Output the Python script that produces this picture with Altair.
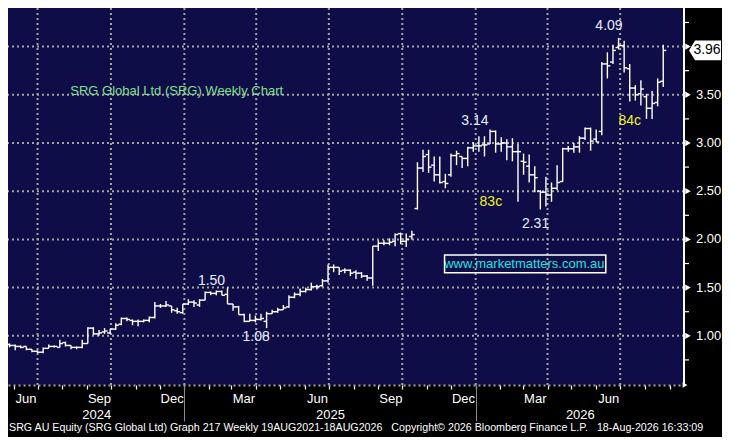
import altair as alt
import pandas as pd

# ---------------- weekly OHLC ----------------
first_week = "2024-05-27"
opens = [0.91, 0.90, 0.89, 0.89, 0.86, 0.84, 0.83, 0.87, 0.89, 0.88,
         0.93, 0.90, 0.88, 0.88, 0.92, 1.08, 1.02, 1.04, 1.03, 1.07,
         1.12, 1.18, 1.16, 1.15, 1.15, 1.16, 1.19, 1.31, 1.31, 1.31,
         1.26, 1.24, 1.33, 1.35, 1.32, 1.37, 1.45, 1.44, 1.46, 1.43,
         1.33, 1.30, 1.22, 1.15, 1.16, 1.17, 1.15, 1.23, 1.25, 1.27,
         1.30, 1.40, 1.43, 1.46, 1.48, 1.51, 1.52, 1.57, 1.71, 1.71,
         1.68, 1.68, 1.66, 1.65, 1.62, 1.60, 1.93, 1.96, 1.96, 1.98,
         2.06, 1.98, 2.03, 2.32, 2.74, 2.88, 2.77, 2.67, 2.60, 2.67,
         2.87, 2.86, 2.84, 2.95, 2.97, 2.98, 2.99, 3.12, 2.99, 3.00,
         2.96, 2.91, 2.81, 2.76, 2.67, 2.50, 2.49, 2.46, 2.53, 2.60,
         2.94, 2.94, 2.96, 3.05, 3.15, 3.04, 3.12, 3.82, 3.84, 3.99,
         4.01, 3.77, 3.57, 3.51, 3.48, 3.36, 3.42, 3.64]
highs = [0.92, 0.91, 0.90, 0.89, 0.86, 0.85, 0.88, 0.91, 0.90, 0.96,
         0.94, 0.90, 0.89, 0.96, 1.09, 1.09, 1.06, 1.08, 1.07, 1.13,
         1.19, 1.19, 1.17, 1.17, 1.17, 1.20, 1.35, 1.33, 1.36, 1.31,
         1.29, 1.33, 1.38, 1.37, 1.38, 1.46, 1.46, 1.47, 1.47, 1.50,
         1.33, 1.31, 1.23, 1.23, 1.21, 1.23, 1.25, 1.27, 1.29, 1.32,
         1.42, 1.45, 1.49, 1.50, 1.55, 1.53, 1.59, 1.74, 1.74, 1.71,
         1.70, 1.69, 1.68, 1.66, 1.63, 1.93, 1.99, 1.99, 2.01, 2.06,
         2.07, 2.06, 2.09, 2.80, 2.93, 2.93, 2.86, 2.86, 2.68, 2.89,
         2.92, 2.86, 2.96, 3.01, 3.07, 3.07, 3.14, 3.13, 3.06, 3.04,
         3.05, 2.99, 2.89, 2.88, 2.76, 2.51, 2.65, 2.59, 2.77, 2.95,
         2.97, 3.00, 3.07, 3.16, 3.16, 3.14, 3.84, 3.94, 4.02, 4.09,
         4.06, 3.82, 3.60, 3.65, 3.51, 3.54, 3.67, 4.02]
lows = [0.88, 0.85, 0.87, 0.85, 0.83, 0.82, 0.82, 0.87, 0.88, 0.88,
        0.89, 0.86, 0.86, 0.87, 0.92, 1.01, 1.00, 1.02, 1.02, 1.06,
        1.11, 1.15, 1.11, 1.10, 1.14, 1.14, 1.18, 1.29, 1.30, 1.24,
        1.23, 1.23, 1.32, 1.30, 1.30, 1.37, 1.42, 1.42, 1.42, 1.33,
        1.26, 1.22, 1.14, 1.15, 1.14, 1.16, 1.08, 1.23, 1.24, 1.27,
        1.29, 1.39, 1.41, 1.45, 1.47, 1.48, 1.51, 1.55, 1.66, 1.63,
        1.65, 1.62, 1.59, 1.60, 1.57, 1.52, 1.88, 1.94, 1.94, 1.93,
        1.95, 1.92, 2.00, 2.31, 2.70, 2.69, 2.60, 2.58, 2.53, 2.65,
        2.77, 2.74, 2.76, 2.91, 2.91, 2.86, 2.99, 2.90, 2.91, 2.82,
        2.81, 2.39, 2.67, 2.59, 2.49, 2.31, 2.34, 2.39, 2.51, 2.60,
        2.91, 2.90, 2.90, 3.03, 2.92, 3.01, 3.08, 3.67, 3.82, 3.97,
        3.73, 3.43, 3.44, 3.39, 3.25, 3.25, 3.38, 3.58]
closes = [0.90, 0.89, 0.88, 0.86, 0.84, 0.83, 0.87, 0.89, 0.89, 0.92,
          0.90, 0.88, 0.88, 0.92, 1.08, 1.02, 1.03, 1.05, 1.07, 1.11,
          1.18, 1.17, 1.15, 1.15, 1.16, 1.19, 1.31, 1.31, 1.32, 1.27,
          1.25, 1.33, 1.35, 1.34, 1.37, 1.45, 1.44, 1.46, 1.42, 1.33,
          1.30, 1.22, 1.15, 1.16, 1.17, 1.18, 1.23, 1.25, 1.27, 1.29,
          1.40, 1.43, 1.46, 1.48, 1.51, 1.51, 1.57, 1.71, 1.71, 1.67,
          1.68, 1.65, 1.65, 1.62, 1.60, 1.93, 1.96, 1.96, 1.97, 2.05,
          1.98, 2.00, 2.05, 2.74, 2.86, 2.75, 2.67, 2.59, 2.58, 2.87,
          2.89, 2.84, 2.95, 2.97, 2.97, 2.98, 3.12, 2.99, 3.00, 2.96,
          2.91, 2.91, 2.80, 2.67, 2.64, 2.49, 2.46, 2.53, 2.59, 2.94,
          2.94, 2.96, 3.05, 3.15, 3.02, 3.01, 3.82, 3.80, 3.96, 4.01,
          3.78, 3.57, 3.50, 3.56, 3.36, 3.41, 3.63, 3.96]

# ---------------- annotations ----------------
white_labels = ["4.09", "3.14", "2.31", "1.50", "1.08"]
white_dates = ["2026-06-17", "2025-12-31", "2026-03-17", "2025-02-04", "2025-04-01"]
white_prices = [4.215, 3.233, 2.16, 1.564, 0.987]
yellow_labels = ["83c", "84c"]
yellow_dates = ["2026-01-20", "2026-07-13"]
yellow_prices = [2.389, 3.233]
title_text = ["SRG Global Ltd (SRG) Weekly Chart"]
title_date = ["2024-08-11"]
title_price = [3.535]
site_text = ["www.marketmatters.com.au"]
site_date = ["2026-03-03"]
site_price = [1.745]
site_box_from = ["2025-11-23"]
site_box_to = ["2026-06-13"]
site_box_low = [1.653]
site_box_high = [1.839]
footer = ("SRG AU Equity (SRG Global Ltd) Graph 217 Weekly 19AUG2021-18AUG2026\u00a0\u00a0\u00a0"
          "Copyright\u00a9 2026 Bloomberg Finance L.P.\u00a0\u00a0\u00a018-Aug-2026 16:33:09")

# ---------------- axes ----------------
x_domain = ["2024-05-25", "2026-09-19"]
y_domain = [0.49, 4.40]
quarter_starts = ["2024-07-01", "2024-10-01", "2025-01-01", "2025-04-01", "2025-07-01",
                  "2025-10-01", "2026-01-01", "2026-04-01", "2026-07-01"]
year_starts = ["2025-01-01", "2026-01-01"]
price_levels = [1.0, 1.5, 2.0, 2.5, 3.0, 3.5, 4.0]
label_levels = [1.0, 1.5, 2.0, 2.5, 3.0, 3.5]          # 4.00 is hidden by the price tag
label_texts = ["1.00", "1.50", "2.00", "2.50", "3.00", "3.50"]
minor_levels = [0.75, 1.25, 1.75, 2.25, 2.75, 3.25, 3.75, 4.25]
month_starts = [d.strftime("%Y-%m-%d") for d in pd.date_range("2024-06-01", "2026-09-01", freq="MS")]


def ms(d):
    return int(pd.Timestamp(d, tz="UTC").value // 10**6)


year_mids = []
bounds = [x_domain[0]] + year_starts + [x_domain[1]]
for a, b in zip(bounds[:-1], bounds[1:]):
    year_mids.append((ms(a) + ms(b)) // 2)

W, H = 676, 377
NAVY = "#0e0d47"
GRID = "#a4a4a4"
SANS = "Liberation Sans, Arial, sans-serif"

dates = [d.strftime("%Y-%m-%d") for d in pd.date_range(first_week, periods=len(closes), freq="7D")]
df = pd.DataFrame({"date": dates, "open": opens, "high": highs, "low": lows, "close": closes})

xscale = alt.Scale(type="utc", domain=[ms(d) for d in x_domain])
yscale = alt.Scale(domain=y_domain, nice=False, zero=False)


def X(field, axis=None):
    return alt.X(field, type="temporal", scale=xscale, axis=axis)


def Y(field):
    return alt.Y(field, type="quantitative", scale=yscale, axis=None)


last_sep = ms("2026-09-01")
month_axis = alt.Axis(
    orient="bottom", values=[ms(d) for d in month_starts], title=None, grid=False,
    labelExpr="(utcmonth(datum.value) % 3 == 2 && datum.value < " + str(last_sep) +
              ") ? utcFormat(datum.value, '%b') : ''",
    ticks=True, tickColor="white", tickSize=4, tickWidth=1.2,
    labelColor="white", labelFont=SANS, labelFontSize=13, labelOffset=12,
    labelPadding=3, labelOverlap=False, labelFlush=False,
    domainColor=GRID, domainDash=[2, 3], domainWidth=2)
year_axis = alt.Axis(
    orient="bottom", values=year_mids, title=None, grid=False,
    labelExpr="utcFormat(datum.value, '%Y')", ticks=False, tickSize=0, domain=False,
    labelColor="white", labelFont=SANS, labelFontSize=13, labelPadding=23,
    labelOverlap=False, labelFlush=False)
sep_axis = alt.Axis(
    orient="bottom", values=[ms(d) for d in year_starts], title=None, grid=False,
    labels=False, ticks=True, tickSize=36, tickColor="#8a8a8a", tickWidth=1, domain=False)

# grid
vgrid = alt.Chart(pd.DataFrame({"date": quarter_starts})).mark_rule(
    color=GRID, strokeDash=[2, 3], strokeWidth=2).encode(x=X("date", year_axis))
levels_df = pd.DataFrame({"level": price_levels})
hgrid = alt.Chart(levels_df).mark_rule(
    color=GRID, strokeDash=[2, 3], strokeWidth=2).encode(y=Y("level"))

# right-hand price axis
ydomain_line = alt.Chart(levels_df).mark_rule(color="white", strokeWidth=1.5).encode(
    x=alt.value(W), y=alt.value(0), y2=alt.value(H))
arrows = alt.Chart(levels_df).mark_point(
    shape="triangle-right", filled=True, color="white", opacity=1, size=40).encode(
    x=alt.value(W + 4), y=Y("level"))
ylabels = alt.Chart(pd.DataFrame({"level": label_levels, "label": label_texts})).mark_text(
    color="white", font=SANS, fontSize=13, align="left", baseline="middle").encode(
    x=alt.value(W + 12), y=Y("level"), text="label")
minor = alt.Chart(pd.DataFrame({"level": minor_levels})).mark_rule(
    color="white", strokeWidth=1.2).encode(
    x=alt.value(W), x2=alt.value(W + 5), y=Y("level"))
corner = alt.Chart(levels_df.head(1)).mark_point(
    shape="triangle-right", filled=True, color="white", opacity=1, size=30).encode(
    x=alt.value(W + 1), y=alt.value(H))

# OHLC bars
base = alt.Chart(df)
hl = base.mark_rule(color="white", strokeWidth=1.4).encode(
    x=X("date", month_axis), y=Y("low"), y2="high")
op = base.mark_rule(color="white", strokeWidth=1.4, xOffset=-3, x2Offset=0).encode(
    x=X("date"), x2="date", y=Y("open"))
cl = base.mark_rule(color="white", strokeWidth=1.4, xOffset=0, x2Offset=3).encode(
    x=X("date"), x2="date", y=Y("close"))

# annotations
wl = alt.Chart(pd.DataFrame({"t": white_labels, "date": white_dates, "p": white_prices})).mark_text(
    color="#e6ecff", font=SANS, fontSize=14, align="center", baseline="middle").encode(
    x=X("date"), y=Y("p"), text="t")
yl = alt.Chart(pd.DataFrame({"t": yellow_labels, "date": yellow_dates, "p": yellow_prices})).mark_text(
    color="#f2f21e", font=SANS, fontSize=14, align="center", baseline="middle").encode(
    x=X("date"), y=Y("p"), text="t")
tl = alt.Chart(pd.DataFrame({"t": title_text, "date": title_date, "p": title_price})).mark_text(
    color="#82e08c", font=SANS, fontSize=13, align="left", baseline="middle").encode(
    x=X("date"), y=Y("p"), text="t")
sl = alt.Chart(pd.DataFrame({"t": site_text, "date": site_date, "p": site_price})).mark_text(
    color="#22e2e2", font=SANS, fontSize=13, align="center", baseline="middle").encode(
    x=X("date"), y=Y("p"), text="t")
sbox = alt.Chart(pd.DataFrame({"a": site_box_from, "b": site_box_to,
                               "lo": site_box_low, "hi": site_box_high})).mark_rect(
    fillOpacity=0, stroke="white", strokeWidth=1.5).encode(
    x=X("a", sep_axis), x2="b", y=Y("lo"), y2="hi")

# last price tag
tag_df = pd.DataFrame({"p": [closes[-1]], "t": ["%.2f" % closes[-1]]})
tag = alt.Chart(tag_df).mark_point(
    shape="M -1 0 L -0.62 -0.62 L 1 -0.62 L 1 0.62 L -0.62 0.62 Z",
    size=1024, filled=True, color="white", opacity=1).encode(x=alt.value(W + 21), y=Y("p"))
tag_text = alt.Chart(tag_df).mark_text(
    color="black", font=SANS, fontSize=14, align="center", baseline="middle").encode(
    x=alt.value(W + 23), y=Y("p"), text="t")

foot = alt.Chart(pd.DataFrame({"t": [footer]})).mark_text(
    color="white", font=SANS, fontSize=10.7, align="left", baseline="middle").encode(
    x=alt.value(1), y=alt.value(H + 43), text="t")

chart = alt.layer(
    vgrid, hgrid, hl, op, cl, wl, yl, tl, sl, sbox,
    ydomain_line, minor, arrows, ylabels, corner, tag, tag_text, foot
).resolve_axis(x="independent").properties(
    width=W, height=H,
    padding={"left": 0, "top": 0, "right": 38, "bottom": 52},
    autosize=alt.AutoSizeParams(type="none"),
    background="black",
).configure_view(fill=NAVY, stroke=None)

chart.save("out.html", embed_options={"renderer": "svg", "actions": False})
